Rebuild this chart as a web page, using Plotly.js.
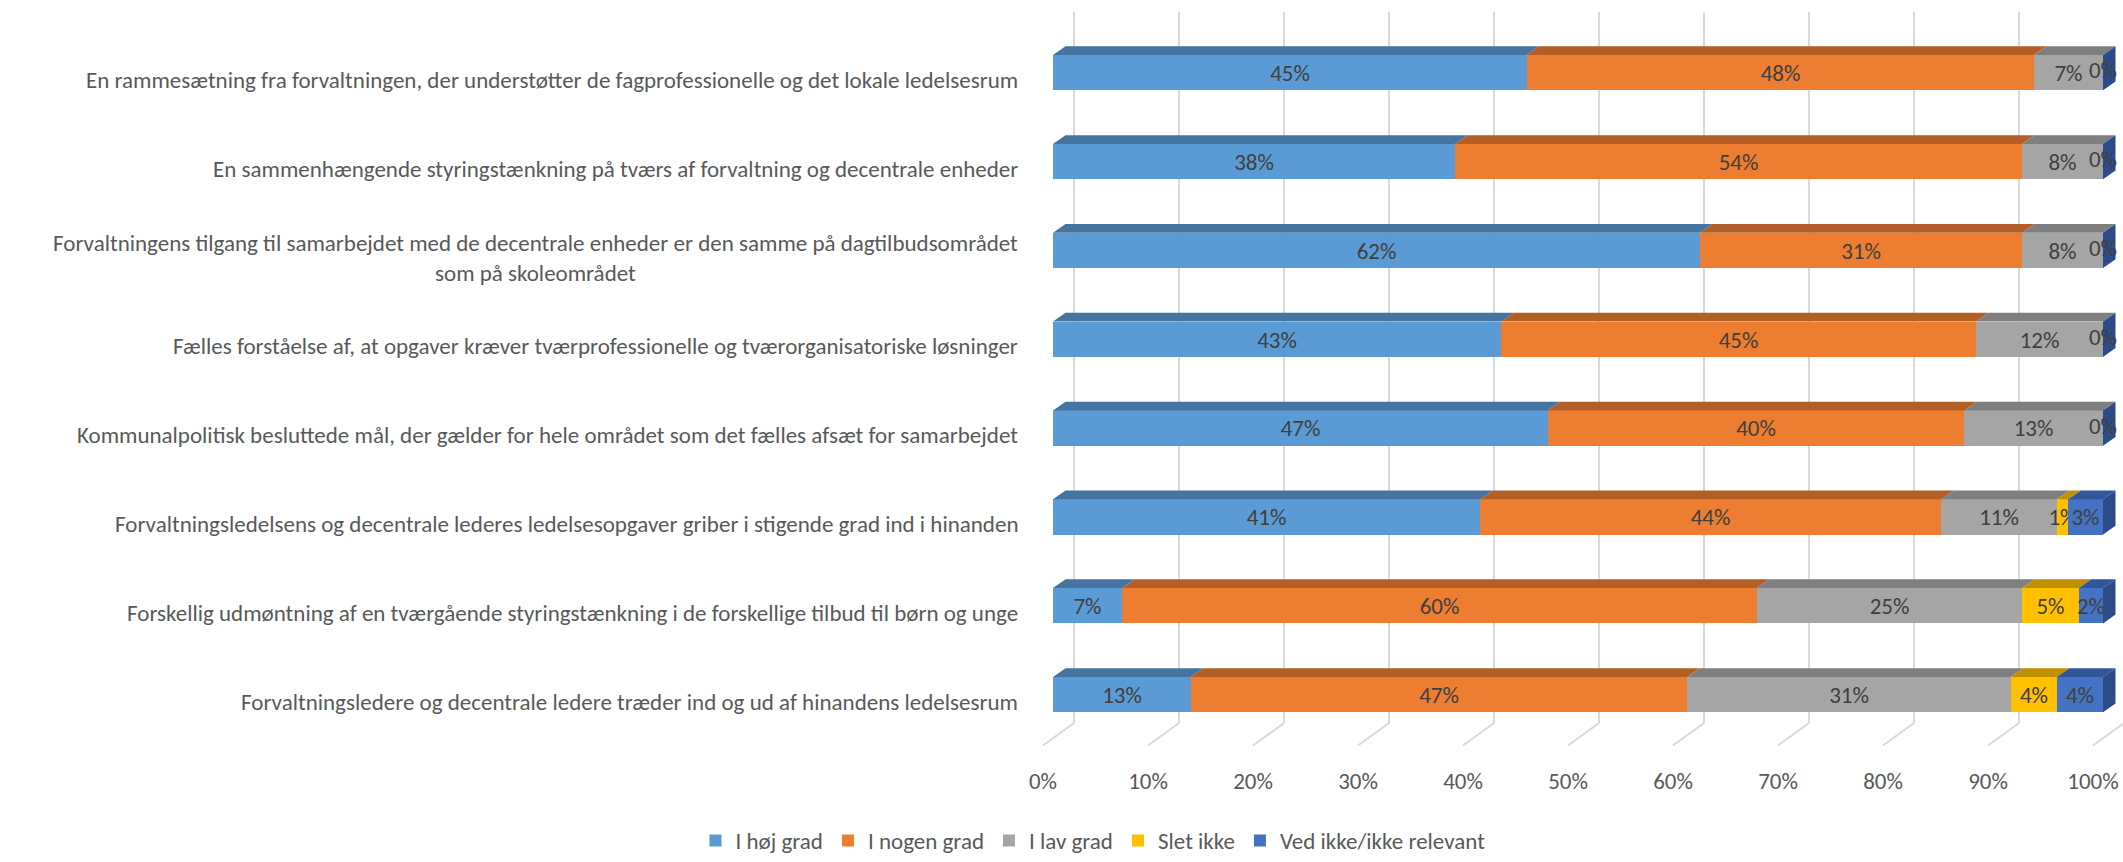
<!DOCTYPE html>
<html>
<head>
<meta charset="utf-8">
<script src="https://cdn.plot.ly/plotly-3.0.1.min.js"></script>
<style>
  html, body { margin: 0; padding: 0; background: #ffffff; }
  #chart { width: 2123px; height: 862px; }
</style>
</head>
<body>
<div id="chart"></div>
<script>
// ---------- DATA ----------
const categories = [
  "En rammesætning fra forvaltningen, der understøtter de fagprofessionelle og det lokale ledelsesrum",
  "En sammenhængende styringstænkning på tværs af forvaltning og decentrale enheder",
  "Forvaltningens tilgang til samarbejdet med de decentrale enheder er den samme på dagtilbudsområdet<br>som på skoleområdet",
  "Fælles forståelse af, at opgaver kræver tværprofessionelle og tværorganisatoriske løsninger",
  "Kommunalpolitisk besluttede mål, der gælder for hele området som det fælles afsæt for samarbejdet",
  "Forvaltningsledelsens og decentrale lederes ledelsesopgaver griber i stigende grad ind i hinanden",
  "Forskellig udmøntning af en tværgående styringstænkning i de forskellige tilbud til børn og unge",
  "Forvaltningsledere og decentrale ledere træder ind og ud af hinandens ledelsesrum"
];
const seriesNames = ["I høj grad", "I nogen grad", "I lav grad", "Slet ikke", "Ved ikke/ikke relevant"];
const iHoejGrad   = [0.451, 0.383, 0.616, 0.427, 0.471, 0.407, 0.066, 0.131];
const iNogenGrad  = [0.483, 0.540, 0.307, 0.452, 0.397, 0.439, 0.604, 0.473];
const iLavGrad    = [0.066, 0.077, 0.077, 0.121, 0.132, 0.110, 0.253, 0.308];
const sletIkke    = [0.000, 0.000, 0.000, 0.000, 0.000, 0.011, 0.054, 0.044];
const vedIkke     = [0.000, 0.000, 0.000, 0.000, 0.000, 0.033, 0.023, 0.044];
const xTickVals   = [0, 0.1, 0.2, 0.3, 0.4, 0.5, 0.6, 0.7, 0.8, 0.9, 1.0];
const xTickText   = ["0%", "10%", "20%", "30%", "40%", "50%", "60%", "70%", "80%", "90%", "100%"];

// ---------- STYLE ----------
const series = [iHoejGrad, iNogenGrad, iLavGrad, sletIkke, vedIkke];
const frontColors = ["#5B9BD5", "#ED7D31", "#A5A5A5", "#FFC000", "#4472C4"];
const topColors   = ["#44749F", "#B25E25", "#7F7F7F", "#BF9000", "#33569A"];
const sideColor   = "#2C4C89";
const FONT = "Carlito, 'Liberation Sans Narrow', 'Open Sans', sans-serif";
const FS = 23;
const labelColor = "#595959";
const dataColor = "#404040";

const barW = 0.397;      // bar thickness (category units)
const depthX = 0.0119;   // 3D depth offset along value axis
const depthY = 0.099;    // 3D depth offset along category axis

const yIdx = categories.map((_, i) => i);

const traces = [];
// front faces
series.forEach((vals, k) => {
  traces.push({
    type: "bar",
    orientation: "h",
    name: seriesNames[k],
    x: vals,
    y: yIdx,
    width: barW,
    marker: { color: frontColors[k], line: { width: 0 } },
    text: vals.map(v => v > 0 ? Math.round(v * 100) + "%" : ""),
    textposition: "inside",
    insidetextanchor: "middle",
    constraintext: "none",
    textangle: 0,
    insidetextfont: { family: FONT, size: FS, color: dataColor },
    hoverinfo: "name+x"
  });
});

// top faces (computed from the data)
const cum = yIdx.map(() => 0);
const zeroX = [], zeroY = [];
const zeroSeen = new Set();
series.forEach((vals, k) => {
  const px = [], py = [];
  vals.forEach((v, i) => {
    const s = cum[i], e = s + v;
    const yt = i - barW / 2;
    if (v > 0) {
      px.push(s, e, e + depthX, s + depthX, s, null);
      py.push(yt, yt, yt - depthY, yt - depthY, yt, null);
    } else {
      const key = i + ":" + e.toFixed(4);
      if (!zeroSeen.has(key)) { zeroSeen.add(key); zeroX.push(e); zeroY.push(i); }
    }
    cum[i] = e;
  });
  traces.push({
    type: "scatter", mode: "lines", x: px, y: py,
    fill: "toself", fillcolor: topColors[k],
    line: { width: 0, color: topColors[k] },
    hoverinfo: "skip", showlegend: false
  });
});

// right side faces
{
  const px = [], py = [];
  cum.forEach((T, i) => {
    const yt = i - barW / 2, yb = i + barW / 2;
    px.push(T, T + depthX, T + depthX, T, T, null);
    py.push(yt, yt - depthY, yb - depthY, yb, yt, null);
  });
  traces.push({
    type: "scatter", mode: "lines", x: px, y: py,
    fill: "toself", fillcolor: sideColor,
    line: { width: 0, color: sideColor },
    hoverinfo: "skip", showlegend: false
  });
}

// labels for zero-valued segments
traces.push({
  type: "scatter", mode: "text", x: zeroX, y: zeroY,
  text: zeroX.map(() => "0%"),
  textposition: "middle center",
  textfont: { family: FONT, size: FS, color: dataColor },
  cliponaxis: false, hoverinfo: "skip", showlegend: false
});

// helper traces so the overlay axes exist
traces.push({ type: "scatter", x: [], y: [], xaxis: "x2", showlegend: false, hoverinfo: "skip" });
traces.push({ type: "scatter", x: [], y: [], xaxis: "x3", showlegend: false, hoverinfo: "skip" });

// ---------- LAYOUT ----------
const L = 1030, R = 0, T = 12, B = 124, W = 2123, H = 862;
const plotW = W - L - R, plotH = H - T - B;
const x0px = 1053, unitPx = 1050;              // front plane: 0% at 1053px, 100% at 2103px
const xr = [(L - x0px) / unitPx, (W - R - x0px) / unitPx];
const gridShift = 21 / unitPx;                 // back plane gridlines
const labelShift = -10 / unitPx;               // tick labels at the front floor edge

const floorShapes = xTickVals.map(v => ({
  type: "line", xref: "x2", yref: "paper",
  x0: v, x1: v - 31 / unitPx, y0: 0, y1: -23 / plotH,
  line: { color: "#D9D9D9", width: 2 }
}));

const annotations = categories.map((c, i) => ({
  xref: "paper", yref: "y", x: 0, y: i + 0.08,
  xanchor: "right", yanchor: "middle", xshift: -10,
  align: "center", showarrow: false, text: c,
  font: { family: FONT, size: FS, color: labelColor }
}));

const layout = {
  width: W, height: H,
  margin: { l: L, r: R, t: T, b: B, pad: 0 },
  paper_bgcolor: "#ffffff", plot_bgcolor: "rgba(0,0,0,0)",
  barmode: "stack",
  bargap: 0,
  font: { family: FONT, size: FS, color: labelColor },
  showlegend: true,
  legend: {
    orientation: "h", x: (1093 - L) / plotW, xanchor: "center",
    y: (T + plotH - 858) / plotH, yanchor: "middle",
    font: { family: FONT, size: FS, color: labelColor },
    traceorder: "normal", itemclick: false
  },
  xaxis: {
    range: xr, showgrid: false, zeroline: false, showticklabels: false,
    showline: false, ticks: "", fixedrange: true
  },
  xaxis2: {
    overlaying: "x", anchor: "y", side: "bottom",
    range: [xr[0] - gridShift, xr[1] - gridShift],
    tickmode: "array", tickvals: xTickVals,
    showgrid: true, gridcolor: "#D9D9D9", gridwidth: 2,
    zeroline: false, showticklabels: false, showline: false, ticks: "", fixedrange: true
  },
  xaxis3: {
    overlaying: "x", anchor: "y", side: "bottom",
    range: [xr[0] - labelShift, xr[1] - labelShift],
    tickmode: "array", tickvals: xTickVals, ticktext: xTickText,
    showgrid: false, zeroline: false, showline: false, ticks: "",
    ticklabelstandoff: 42,
    tickfont: { family: FONT, size: FS, color: labelColor }, fixedrange: true
  },
  yaxis: {
    range: [7 + (738 - 709) / 90.7, (12 - 74) / 90.7],
    showgrid: false, zeroline: false, showticklabels: false,
    showline: false, ticks: "", fixedrange: true
  },
  shapes: floorShapes,
  annotations: annotations
};

Plotly.newPlot("chart", traces, layout, { displayModeBar: false, staticPlot: false });
</script>
</body>
</html>
